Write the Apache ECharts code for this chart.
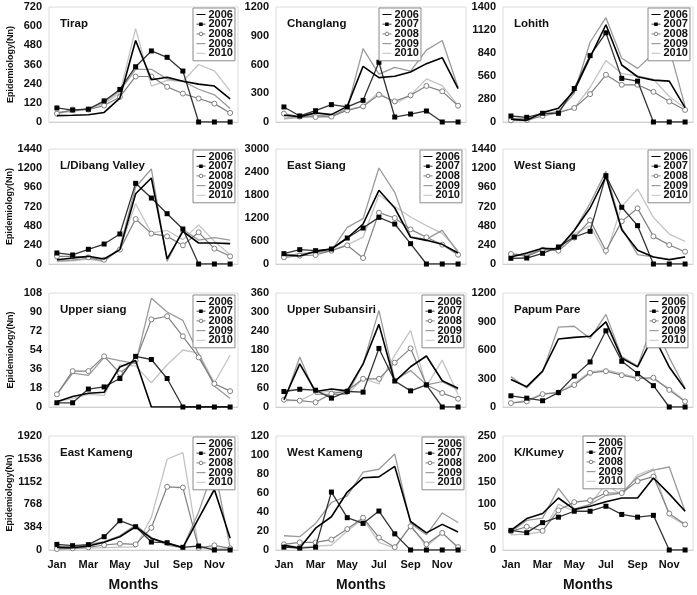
<!DOCTYPE html>
<html><head><meta charset="utf-8">
<script src="https://cdn.jsdelivr.net/npm/echarts@6/dist/echarts.min.js"></script>
<style>html,body{margin:0;padding:0;background:#fff}#c{width:697px;height:595px}</style>
</head><body><div id="c"></div>
<script>
const months = ['Jan','Feb','Mar','Apr','May','Jun','Jul','Aug','Sep','Oct','Nov','Dec'];
const years = ['2006','2007','2008','2009','2010'];
const districts = ['Tirap','Changlang','Lohith','L/Dibang Valley','East Siang','West Siang','Upper siang','Upper Subansiri','Papum Pare','East Kameng','West Kameng','K/Kumey'];
const yMax = [720,1200,1400,1440,3000,1440,108,360,1200,1920,120,250];
const yStep = [120,300,280,240,600,240,18,60,300,384,20,50];

// rows: 2006, 2007, 2008, 2009, 2010
const tirap = [
  [40,42,45,60,150,510,265,280,255,237,225,145],
  [88,75,80,132,204,346,445,405,319,0,0,0],
  [52,78,78,103,157,285,285,220,178,147,115,57],
  [60,70,85,125,195,330,330,270,255,205,170,85],
  [55,65,80,115,180,585,225,260,255,360,320,195]];
const changlang = [
  [70,55,95,77,163,581,463,477,522,609,671,348],
  [157,63,118,181,157,226,623,52,83,115,0,0],
  [87,56,52,56,122,163,285,216,278,376,320,170],
  [40,45,70,60,140,765,500,570,530,750,850,360],
  [30,50,60,55,125,165,310,190,280,450,380,170]];
const lohith = [
  [33,20,114,167,380,788,1184,694,551,510,498,175],
  [73,57,106,106,408,808,1086,531,498,0,0,0],
  [20,24,73,114,171,339,575,453,453,367,249,147],
  [40,45,90,130,350,971,1270,776,653,830,900,190],
  [20,15,80,120,170,420,750,590,560,520,310,170]];
const dibang = [
  [54,75,96,63,180,880,1077,63,409,263,263,255],
  [138,113,184,250,376,1010,826,630,438,0,0,0],
  [96,96,83,54,180,563,380,346,234,397,192,96],
  [40,50,70,40,200,964,1190,33,430,300,330,300],
  [30,40,60,30,190,755,390,420,305,490,285,115]];
const eastSiang = [
  [243,209,330,391,678,1043,1922,1461,696,617,513,287],
  [270,374,348,391,678,939,1217,1043,530,0,0,0],
  [174,217,235,348,487,157,1339,1200,904,696,504,243],
  [200,270,300,350,957,1183,2504,1870,704,650,878,300],
  [220,250,290,360,500,700,1809,1500,1226,1000,800,350]];
const westSiang = [
  [88,138,196,188,420,701,1098,430,171,88,54,88],
  [71,75,134,213,338,409,1106,710,480,0,0,0],
  [125,96,180,167,330,547,167,534,697,346,238,154],
  [120,110,190,200,420,760,1160,450,117,90,60,90],
  [140,100,180,180,380,480,117,722,939,584,375,284]];
const upperSiang = [
  [5,10,13,14,38,44,0,0,0,0,0,0],
  [4,4,17,19,27,48,45,27,0,0,0,0],
  [12,34,34,48,32,44,83,86,67,47,22,15],
  [12,32,30,47,44,41,103,90,82,50,20,8],
  [5,8,12,11,40,39,23,40,54,51,23,49]];
const upperSubansiri = [
  [23,136,49,57,51,136,261,80,127,161,83,59],
  [49,56,53,28,49,47,185,82,51,70,0,0],
  [23,20,15,42,51,89,89,140,185,70,44,26],
  [15,158,40,40,40,135,305,85,115,70,80,55],
  [20,20,45,50,40,90,73,164,242,65,148,39]];
const papumPare = [
  [290,214,377,716,733,744,896,515,422,750,422,190],
  [118,93,66,152,325,474,802,481,353,225,0,0],
  [41,59,135,152,232,360,377,335,301,308,180,59],
  [320,200,370,840,850,720,975,530,430,890,520,200],
  [40,70,140,150,250,370,390,350,310,290,200,60]];
const eastKameng = [
  [45,39,67,129,224,392,196,112,39,532,1019,196],
  [95,73,90,224,493,392,134,123,45,67,0,0],
  [17,28,45,84,106,95,375,1064,1052,34,78,28],
  [60,55,90,140,240,420,210,80,40,640,1400,40],
  [10,20,30,40,50,50,550,1528,1640,28,30,20]];
const westKameng = [
  [5,2,23,35,61,76,77,88,30,18,27,19],
  [3,2,3,61,34,28,41,17,0,0,0,0],
  [6,8,8,11,22,34,13,3,25,6,18,3],
  [15,14,28,50,57,82,85,101,28,16,39,29],
  [5,3,4,5,20,33,8,2,26,4,18,2]];
const kKumey = [
  [43,69,80,114,89,96,106,114,114,158,123,85],
  [43,38,60,72,85,85,96,78,72,76,0,0],
  [41,51,42,87,105,109,125,125,151,161,80,56],
  [40,65,70,135,90,100,120,125,160,175,182,85],
  [33,35,40,100,85,100,145,120,165,178,75,55]];

const panels = [tirap,changlang,lohith,dibang,eastSiang,westSiang,upperSiang,upperSubansiri,papumPare,eastKameng,westKameng,kKumey];

const FONT = 'Liberation Sans, Arial, sans-serif';
const colLeft = [49, 276, 503];
const colWidth = [189, 190, 190];
const rowTop = [7, 149, 293, 436];
const rowHeight = [115, 115, 114, 114];
const legendPos = [[193,8],[379,8],[648,8],[193,150],[420,150],[648,150],[193,295],[422,295],[646,295],[193,437],[422,437],[583,436]];

const styles = [
  {lineStyle:{color:'#000',width:1.6}, symbol:'none', itemStyle:{color:'#000'}},
  {lineStyle:{color:'#333',width:1.3}, symbol:'rect', symbolSize:5, itemStyle:{color:'#000'}},
  {lineStyle:{color:'#808080',width:1.2}, symbol:'circle', symbolSize:5, itemStyle:{color:'#fff',borderColor:'#808080',borderWidth:1}},
  {lineStyle:{color:'#9a9a9a',width:1.3}, symbol:'none', itemStyle:{color:'#9a9a9a'}},
  {lineStyle:{color:'#c4c4c4',width:1.3}, symbol:'none', itemStyle:{color:'#c4c4c4'}}
];
const legendItems = [
  {name:'2006', icon:'path://M0,0M12,8M0,3.3H12V4.7H0Z', itemStyle:{color:'#000', borderWidth:0}},
  {name:'2007', icon:'path://M0,0M12,8M0,3.5H3.5V1.7H8.3V3.5H12V4.5H8.3V6.3H3.5V4.5H0Z', itemStyle:{color:'#000', borderWidth:0}},
  {name:'2008', icon:'path://M0,0M12,8M0,4H3.6A2.4,2.4,0,1,1,8.4,4A2.4,2.4,0,1,1,3.6,4M8.4,4H12', itemStyle:{color:'#fff', borderColor:'#808080', borderWidth:1}},
  {name:'2009', icon:'path://M0,0M12,8M0,3.2H12V4.8H0Z', itemStyle:{color:'#9a9a9a', borderWidth:0}},
  {name:'2010', icon:'path://M0,0M12,8M0,3.3H12V4.7H0Z', itemStyle:{color:'#c4c4c4', borderWidth:0}}
];

const grid=[], xAxis=[], yAxis=[], series=[], title=[], legend=[];
panels.forEach((p, i) => {
  const r = Math.floor(i/3), c = i%3;
  grid.push({left:colLeft[c], width:colWidth[c], top:rowTop[r], height:rowHeight[r], show:true, borderColor:'#dcdcdc', borderWidth:1, backgroundColor:'transparent'});
  const bottom = r === 3;
  xAxis.push({type:'category', gridIndex:i, data:months, boundaryGap:true,
    axisLine:{show:true, lineStyle:{color:'#cfcfcf'}}, axisTick:{show:false},
    axisLabel:{show:bottom, interval:1, fontFamily:FONT, fontWeight:'bold', fontSize:11, color:'#111', margin:9},
    name: bottom ? 'Months' : '', nameLocation:'middle', nameGap:28,
    nameTextStyle:{fontFamily:FONT, fontWeight:'bold', fontSize:14, color:'#111', padding:[0,20,0,0]}});
  yAxis.push({type:'value', gridIndex:i, min:0, max:yMax[i], interval:yStep[i],
    axisLine:{show:false}, axisTick:{show:false}, splitLine:{show:false},
    axisLabel:{fontFamily:FONT, fontWeight:'bold', fontSize:11, color:'#111', margin:7, formatter:v => String(v)},
    name: c===0 ? 'Epidemiology(Nn)' : '', nameLocation:'middle', nameGap:34,
    nameTextStyle:{fontFamily:FONT, fontWeight:'bold', fontSize:9, color:'#111'}});
  title.push({text:districts[i], left:colLeft[c]+6, top:rowTop[r]+6,
    textStyle:{fontFamily:FONT, fontWeight:'bold', fontSize:11.5, color:'#111'}});
  legend.push({data:legendItems, orient:'vertical', left:legendPos[i][0], top:legendPos[i][1], z:50,
    itemWidth:9, itemHeight:7, itemGap:-1.3, padding:[1,2,2,3],
    backgroundColor:'#fff', borderColor:'#8a8a8a', borderWidth:1,
    textStyle:{fontFamily:FONT, fontWeight:'bold', fontSize:11, color:'#111', padding:[0,0,0,-2]}});
  p.forEach((vals, k) => {
    series.push(Object.assign({type:'line', name:years[k], xAxisIndex:i, yAxisIndex:i, data:vals, animation:false, z:10-k}, styles[k]));
  });
});

const chart = echarts.init(document.getElementById('c'), null, {renderer:'canvas'});
chart.setOption({animation:false, grid, xAxis, yAxis, series, title, legend});
</script></body></html>
